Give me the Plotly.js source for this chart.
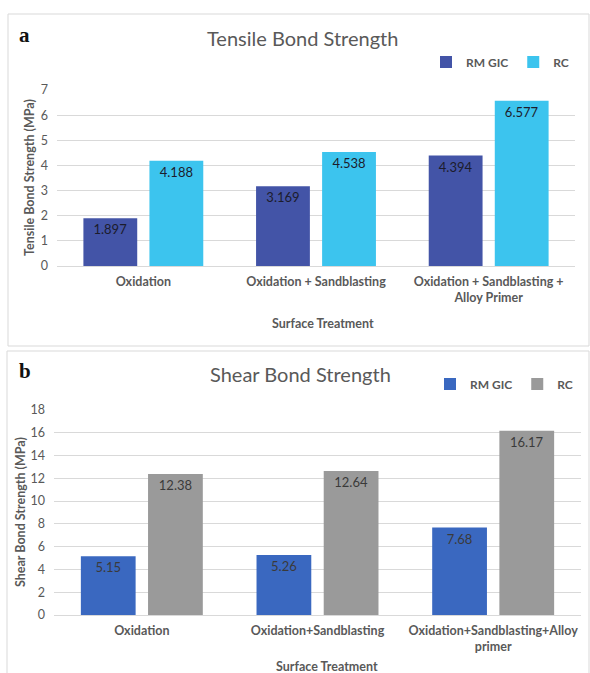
<!DOCTYPE html>
<html>
<head>
<meta charset="utf-8">
<script src="https://cdn.plot.ly/plotly-3.0.1.min.js"></script>
<style>html,body{margin:0;padding:0;background:#fff;}#chart{width:590px;height:673px;}</style>
</head>
<body>
<div id="chart"></div>
<script>
// ---- Data ----
const categoriesA = ["Oxidation", "Oxidation + Sandblasting", "Oxidation + Sandblasting +<br>Alloy Primer"];
const tensileRMGIC = [1.897, 3.169, 4.394];
const tensileRC = [4.188, 4.538, 6.577];
const tensileLabelsRMGIC = ["1.897", "3.169", "4.394"];
const tensileLabelsRC = ["4.188", "4.538", "6.577"];

const categoriesB = ["Oxidation", "Oxidation+Sandblasting", "Oxidation+Sandblasting+Alloy<br>primer"];
const shearRMGIC = [5.15, 5.26, 7.68];
const shearRC = [12.38, 12.64, 16.17];
const shearLabelsRMGIC = ["5.15", "5.26", "7.68"];
const shearLabelsRC = ["12.38", "12.64", "16.17"];

const seriesNames = ["RM GIC", "RC"];
const tickValsA = [0, 1, 2, 3, 4, 5, 6, 7];
const tickValsB = [0, 2, 4, 6, 8, 10, 12, 14, 16, 18];

// ---- Layout helpers ----
const W = 590, H = 673;
const px = x => x / W;
const py = y => 1 - y / H;
const FONT = "Lato, 'Open Sans', sans-serif";
const GREY = "#595959";

const traces = [
  {type: "bar", name: seriesNames[0], x: categoriesA, y: tensileRMGIC, text: tensileLabelsRMGIC,
   xaxis: "x", yaxis: "y", legend: "legend",
   marker: {color: "#4354a7"}, textposition: "inside", insidetextanchor: "end", constraintext: "none",
   textfont: {family: FONT, size: 13, color: "#1c1c2c"}, hoverinfo: "x+y"},
  {type: "bar", name: seriesNames[1], x: categoriesA, y: tensileRC, text: tensileLabelsRC,
   xaxis: "x", yaxis: "y", legend: "legend",
   marker: {color: "#3cc4ee"}, textposition: "inside", insidetextanchor: "end", constraintext: "none",
   textfont: {family: FONT, size: 13, color: "#1c1c2c"}, hoverinfo: "x+y"},
  {type: "bar", name: seriesNames[0], x: categoriesB, y: shearRMGIC, text: shearLabelsRMGIC,
   xaxis: "x2", yaxis: "y2", legend: "legend2",
   marker: {color: "#3a68c0"}, textposition: "inside", insidetextanchor: "end", constraintext: "none",
   textfont: {family: FONT, size: 13, color: "#3a3a3a"}, hoverinfo: "x+y"},
  {type: "bar", name: seriesNames[1], x: categoriesB, y: shearRC, text: shearLabelsRC,
   xaxis: "x2", yaxis: "y2", legend: "legend2",
   marker: {color: "#9a9a9a"}, textposition: "inside", insidetextanchor: "end", constraintext: "none",
   textfont: {family: FONT, size: 13, color: "#3a3a3a"}, hoverinfo: "x+y"}
];

const axisX = (domain, anchor) => ({
  domain: domain, anchor: anchor, type: "category",
  showgrid: false, showline: false, zeroline: false, ticks: "",
  ticklabelstandoff: 6,
  tickfont: {family: FONT, size: 12.5, color: GREY, weight: "bold"}
});
const axisY = (domain, anchor, range, tickvals) => ({
  domain: domain, anchor: anchor, range: range, tickvals: tickvals,
  showgrid: true, gridcolor: "#d9d9d9", gridwidth: 1,
  zeroline: true, zerolinecolor: "#d9d9d9", zerolinewidth: 1,
  showline: false, ticks: "", ticklabelstandoff: 8,
  tickfont: {family: FONT, size: 12.5, color: GREY}
});

const legendStyle = (x, y) => ({
  orientation: "h", x: x, xanchor: "right", y: y, yanchor: "middle",
  font: {family: FONT, size: 12, color: GREY, weight: "bold"}, itemwidth: 30,
  bgcolor: "rgba(0,0,0,0)", tracegroupgap: 0
});

const layout = {
  width: W, height: H,
  margin: {l: 0, r: 0, t: 0, b: 0},
  paper_bgcolor: "#fff", plot_bgcolor: "#fff",
  barmode: "group", bargap: 0.235, bargroupgap: 0.185,
  font: {family: FONT, color: GREY},
  xaxis: axisX([px(57), px(575)], "y"),
  yaxis: axisY([py(266), py(90)], "x", [0, 7], tickValsA),
  xaxis2: axisX([px(54), px(581)], "y2"),
  yaxis2: axisY([py(615), py(410)], "x2", [0, 18], tickValsB),
  legend: legendStyle(px(574), py(62)),
  legend2: legendStyle(px(578), py(384)),
  shapes: [
    {type: "rect", xref: "paper", yref: "paper", x0: px(8), x1: px(589), y0: py(346), y1: py(14),
     line: {color: "#d9d9d9", width: 1}},
    {type: "rect", xref: "paper", yref: "paper", x0: px(7), x1: px(589), y0: py(690), y1: py(351),
     line: {color: "#d9d9d9", width: 1}}
  ],
  annotations: [
    {text: "<b>a</b>", xref: "paper", yref: "paper", x: px(17), y: py(35), xanchor: "left", yanchor: "middle",
     showarrow: false, font: {family: "'Liberation Serif', 'DejaVu Serif', serif", size: 21, color: "#111"}},
    {text: "<b>b</b>", xref: "paper", yref: "paper", x: px(17), y: py(371), xanchor: "left", yanchor: "middle",
     showarrow: false, font: {family: "'Liberation Serif', 'DejaVu Serif', serif", size: 21, color: "#111"}},
    {text: "Tensile Bond Strength", xref: "paper", yref: "paper", x: px(302), y: py(38),
     xanchor: "center", yanchor: "middle", showarrow: false, font: {family: FONT, size: 20, color: GREY}},
    {text: "Shear Bond Strength", xref: "paper", yref: "paper", x: px(300), y: py(374),
     xanchor: "center", yanchor: "middle", showarrow: false, font: {family: FONT, size: 20, color: GREY}},
    {text: "<b>Tensile Bond Strength (MPa)</b>", xref: "paper", yref: "paper", x: px(30), y: py(178),
     xanchor: "center", yanchor: "middle", textangle: -90, showarrow: false,
     font: {family: FONT, size: 12.5, color: GREY}},
    {text: "<b>Shear Bond Strength (MPa)</b>", xref: "paper", yref: "paper", x: px(20), y: py(512),
     xanchor: "center", yanchor: "middle", textangle: -90, showarrow: false,
     font: {family: FONT, size: 12.5, color: GREY}},
    {text: "<b>Surface Treatment</b>", xref: "paper", yref: "paper", x: px(323), y: py(323),
     xanchor: "center", yanchor: "middle", showarrow: false, font: {family: FONT, size: 12.5, color: GREY}},
    {text: "<b>Surface Treatment</b>", xref: "paper", yref: "paper", x: px(327), y: py(666),
     xanchor: "center", yanchor: "middle", showarrow: false, font: {family: FONT, size: 12.5, color: GREY}}
  ]
};

Plotly.newPlot("chart", traces, layout, {displayModeBar: false, staticPlot: true});
</script>
</body>
</html>
